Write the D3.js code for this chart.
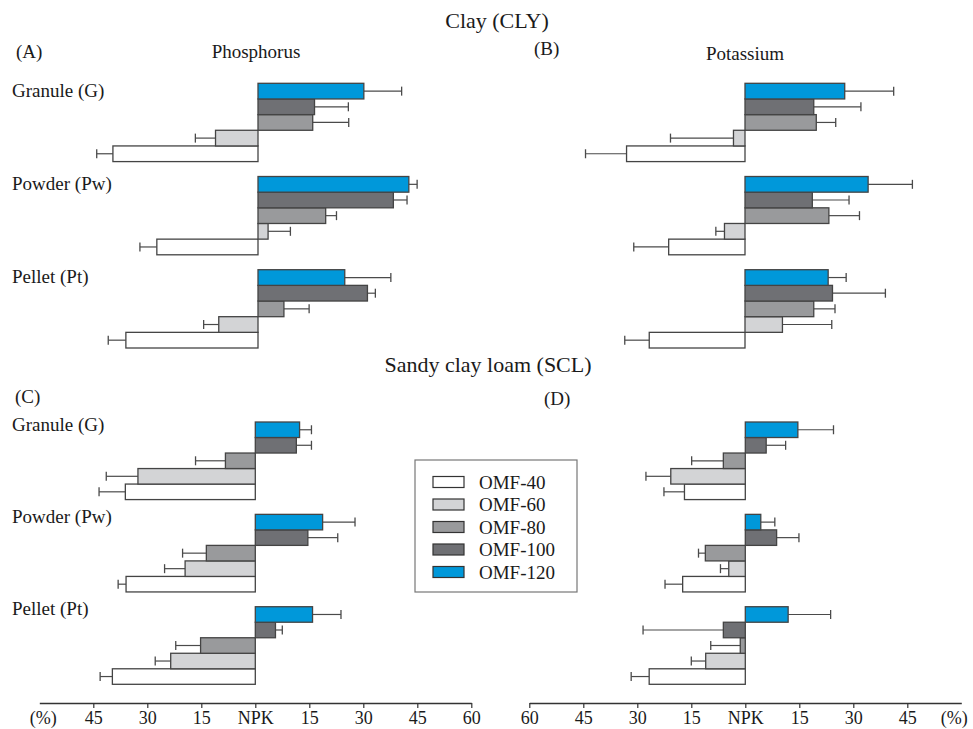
<!DOCTYPE html>
<html>
<head>
<meta charset="utf-8">
<script src="https://cdn.jsdelivr.net/npm/d3@7"></script>
<style>
  body { margin: 0; background: #fff; }
  svg text { font-family: "Liberation Serif", "Times New Roman", serif; fill: #1a1a1a; }
</style>
</head>
<body>
<div id="chart"></div>
<script>
// Serie e categorie
const series = ["OMF-40", "OMF-60", "OMF-80", "OMF-100", "OMF-120"];
const forms = ["Granule (G)", "Powder (Pw)", "Pellet (Pt)"];
const colors = ["#ffffff", "#d3d4d6", "#999a9c", "#6f7074", "#0098da"];

// Valori (%) rispetto a NPK, righe = forme, colonne = serie
const phosClay = [
  [-40.3, -11.8, 15.2, 15.7, 29.4],
  [-28.1, 2.8, 18.8, 37.6, 41.9],
  [-36.7, -10.9, 7.2, 30.4, 24.1]
];
const phosClayErr = [
  [4.5, 5.6, 10, 9.4, 10.5],
  [4.7, 6.2, 3, 3.8, 2.3],
  [4.9, 4.2, 7, 2.2, 12.8]
];
const potClay = [
  [-32.9, -3.2, 19.8, 19.1, 27.7],
  [-21.2, -5.7, 23.3, 18.7, 34.2],
  [-26.6, 10.4, 19.1, 24.3, 23.1]
];
const potClayErr = [
  [11.4, 17.5, 5.4, 13.1, 13.6],
  [9.7, 2.4, 8.5, 10.2, 12.3],
  [6.8, 13.7, 5.9, 14.7, 5]
];
const phosScl = [
  [-36.1, -32.6, -8.3, 11.4, 12.3],
  [-35.9, -19.5, -13.6, 14.6, 18.7],
  [-39.7, -23.5, -15.2, 5.6, 15.9]
];
const phosSclErr = [
  [7.3, 8.8, 8.3, 4.2, 3.3],
  [2.2, 5.7, 6.6, 8.3, 9],
  [3.4, 4.3, 6.9, 1.9, 7.9]
];
const potScl = [
  [-16.9, -20.7, -6.1, 5.8, 14.6],
  [-17.4, -4.6, -11.1, 8.7, 4.3],
  [-26.7, -11, -1.4, -6.1, 11.9]
];
const potSclErr = [
  [5.7, 6.9, 8.8, 5.4, 9.9],
  [4.9, 2.3, 1.9, 6.2, 3.9],
  [5, 4, 8.2, 22.3, 11.8]
];

const leftTicks = [-45, -30, -15, 0, 15, 30, 45, 60];
const rightTicks = [-60, -45, -30, -15, 0, 15, 30, 45];

const width = 973;
const height = 729;

const svg = d3.select("#chart").append("svg")
  .attr("width", width).attr("height", height);

// Titoli principali
svg.append("text").attr("x", 497).attr("y", 28).attr("text-anchor", "middle")
  .style("font-size", "22px").text("Clay (CLY)");
svg.append("text").attr("x", 488).attr("y", 372).attr("text-anchor", "middle")
  .style("font-size", "22px").text("Sandy clay loam (SCL)");

const panels = [
  { tag: "(A)", tagX: 16, tagY: 58, title: "Phosphorus", titleX: 256, titleY: 58,
    zero: 258, y0: 83.3, y1: 348, vals: phosClay, errs: phosClayErr, labels: true, labOff: 13.5 },
  { tag: "(B)", tagX: 534, tagY: 55, title: "Potassium", titleX: 745, titleY: 60,
    zero: 745, y0: 83.3, y1: 348, vals: potClay, errs: potClayErr, labels: false },
  { tag: "(C)", tagX: 15, tagY: 403, title: null,
    zero: 255.3, y0: 422, y1: 684.3, vals: phosScl, errs: phosSclErr, labels: true, labOff: 8.5 },
  { tag: "(D)", tagX: 544, tagY: 405, title: null,
    zero: 745.3, y0: 422, y1: 684.3, vals: potScl, errs: potSclErr, labels: false }
];

panels.forEach((p) => {
  const x = d3.scaleLinear().domain([-60, 60]).range([p.zero - 216, p.zero + 216]);
  const yGroup = d3.scaleBand().domain(forms).range([p.y0, p.y1]).paddingInner(0.16);
  const yBar = d3.scaleBand().domain(series.slice().reverse()).range([0, yGroup.bandwidth()]);

  svg.append("text").attr("x", p.tagX).attr("y", p.tagY)
    .style("font-size", "19px").text(p.tag);
  if (p.title) {
    svg.append("text").attr("x", p.titleX).attr("y", p.titleY).attr("text-anchor", "middle")
      .style("font-size", "19px").text(p.title);
  }

  const rows = [];
  forms.forEach((f, i) => {
    series.forEach((s, j) => {
      rows.push({ form: f, series: s, value: p.vals[i][j], err: p.errs[i][j], color: colors[j] });
    });
  });

  const g = svg.append("g");

  // barre di errore
  g.selectAll("g.err")
    .data(rows)
    .join("g")
    .attr("class", "err")
    .each(function (d) {
      const yc = yGroup(d.form) + yBar(d.series) + yBar.bandwidth() / 2;
      const end = d.value >= 0 ? d.value + d.err : d.value - d.err;
      const sel = d3.select(this);
      sel.append("line")
        .attr("x1", x(d.value)).attr("x2", x(end))
        .attr("y1", yc).attr("y2", yc)
        .attr("stroke", "#4a4a4a").attr("stroke-width", 1.2);
      sel.append("line")
        .attr("x1", x(end)).attr("x2", x(end))
        .attr("y1", yc - 4.5).attr("y2", yc + 4.5)
        .attr("stroke", "#4a4a4a").attr("stroke-width", 1.3);
    });

  // barre
  g.selectAll("rect")
    .data(rows)
    .join("rect")
    .attr("x", (d) => x(Math.min(0, d.value)))
    .attr("width", (d) => Math.abs(x(d.value) - x(0)))
    .attr("y", (d) => yGroup(d.form) + yBar(d.series))
    .attr("height", yBar.bandwidth())
    .attr("fill", (d) => d.color)
    .attr("stroke", "#444")
    .attr("stroke-width", 1.3);

  if (p.labels) {
    svg.selectAll(null)
      .data(forms)
      .join("text")
      .attr("x", 12)
      .attr("y", (d) => yGroup(d) + p.labOff)
      .style("font-size", "19px")
      .text((d) => d);
  }
});

// Assi in basso
function drawAxis(zero, ticks, pctValue, pctShift) {
  const x = d3.scaleLinear().domain([-60, 60]).range([zero - 216, zero + 216]);
  const axis = d3.axisBottom(x)
    .tickValues(ticks)
    .tickSize(5)
    .tickSizeOuter(0)
    .tickFormat((d) => (d === 0 ? "NPK" : Math.abs(d)));
  const ax = svg.append("g").attr("transform", "translate(0,703)").call(axis);
  ax.select(".domain").attr("stroke", "#333").attr("stroke-width", 1.3);
  ax.selectAll(".tick line").attr("stroke", "#333").attr("stroke-width", 1.2);
  ax.selectAll(".tick text")
    .attr("y", 21)
    .attr("dy", 0)
    .style("font-size", "18px")
    .style("font-family", "'Liberation Serif', serif")
    .attr("fill", "#1a1a1a");
  svg.append("text")
    .attr("x", x(pctValue) + pctShift).attr("y", 724)
    .attr("text-anchor", "middle")
    .style("font-size", "18px")
    .text("(%)");
}
drawAxis(255.3, leftTicks, -60, 4);
drawAxis(745.3, rightTicks, 60, -7);

// Legenda
const legend = svg.append("g").attr("transform", "translate(415,460)");
legend.append("rect")
  .attr("width", 162).attr("height", 132)
  .attr("fill", "#fff").attr("stroke", "#777").attr("stroke-width", 1.2);
const item = legend.selectAll("g.item")
  .data(series)
  .join("g")
  .attr("class", "item")
  .attr("transform", (d, i) => `translate(18,${22 + i * 22.5})`);
item.append("rect")
  .attr("y", -5.5).attr("width", 31).attr("height", 11)
  .attr("fill", (d, i) => colors[i])
  .attr("stroke", "#333").attr("stroke-width", 1.2);
item.append("text")
  .attr("x", 46).attr("y", 6.5)
  .style("font-size", "19px")
  .text((d) => d);
</script>
</body>
</html>
